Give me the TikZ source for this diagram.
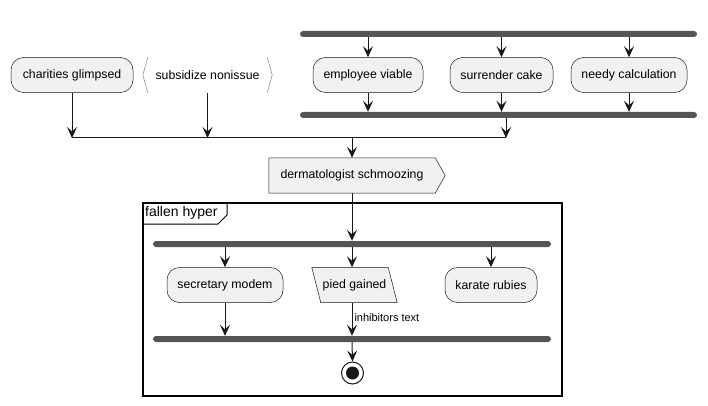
\documentclass[tikz,border=0pt]{standalone}
\usepackage{fontspec}
\setmainfont{Liberation Sans}
\usetikzlibrary{arrows.meta,calc,backgrounds}
\definecolor{boxfill}{HTML}{F1F1F1}
\definecolor{boxline}{HTML}{181818}
\definecolor{barfill}{HTML}{555555}
\begin{document}
\begin{tikzpicture}[x=1pt,y=-1pt,
  txt/.style={font=\fontsize{12.3}{14}\selectfont,text=black},
  act/.style={txt,draw=boxline,line width=0.5pt,fill=boxfill,rounded corners=12.5pt,minimum height=35pt,inner sep=0pt},
  plain/.style={txt,minimum height=35pt,inner sep=0pt},
  bar/.style={fill=barfill,rounded corners=3pt,minimum height=6pt,inner sep=0pt,draw=none},
  flow/.style={draw=boxline,line width=1pt,-{Stealth[length=11pt,width=10pt,inset=4.5pt]}},
  conn/.style={draw=boxline,line width=1pt},
  thinline/.style={draw=boxline,line width=0.5pt}]
\useasboundingbox (0,0) rectangle (708,406);
% top row
\node[act,minimum width=122pt] (ch) at (72,75) {charities glimpsed};
\node[plain,minimum width=129pt] (sn) at (207.5,75) {subsidize nonissue};
\draw[thinline,draw=gray] ($(sn.north west)+(5,0)$) -- (sn.west) -- ($(sn.south west)+(5,0)$);
\draw[thinline,draw=gray] ($(sn.north east)+(-5,0)$) -- (sn.east) -- ($(sn.south east)+(-5,0)$);
\node[bar,minimum width=397pt] (f1) at (498.5,34) {};
\node[act,minimum width=110pt] (ev) at (368,75) {employee viable};
\node[act,minimum width=103pt] (sc) at (501.5,75) {surrender cake};
\node[act,minimum width=116pt] (nc) at (629,75) {needy calculation};
\node[bar,minimum width=397pt] (j1) at (498.5,115) {};
\foreach \n in {ev,sc,nc}{
  \draw[flow] (\n.north |- f1.south) -- (\n.north);
  \draw[flow] (\n.south) -- (\n.south |- j1.north);
}
\coordinate (mr) at (506,138);
\draw[flow] (j1.south -| mr) -- (mr);
\draw[flow] (ch.south) -- (ch.south |- mr);
\draw[flow] (sn.south) -- (sn.south |- mr);
\draw[conn] (ch.south |- mr) -- (mr);
% dermatologist
\node[plain,minimum width=166pt] (dm) at (352,175.5) {dermatologist schmoozing};
\begin{scope}[on background layer]
\draw[thinline,fill=boxfill] (dm.north west) -- (dm.north east) -- ($(dm.east)+(10,0)$) -- (dm.south east) -- (dm.south west) -- cycle;
\end{scope}
\draw[flow] (dm.north |- mr) -- (dm.north);
% group
\node[draw=black,line width=1.5pt,minimum width=419pt,minimum height=193pt,inner sep=0pt] (grp) at (352.5,299.5) {};
\draw[black,line width=1pt] (227,203) -- (227,215) -- (218,224) -- (143,224);
\node[font=\fontsize{14}{16}\selectfont,anchor=west,inner sep=0pt] (gt) at (145,213) {fallen hyper};
\node[bar,minimum width=398pt] (f2) at (352,244) {};
\node[bar,minimum width=398pt] (j2) at (352,339) {};
\draw[flow] (dm.south) -- (dm.south |- f2.north);
\node[act,minimum width=116pt] (sm) at (225,285) {secretary modem};
\node[plain,minimum width=76pt] (pg) at (354.5,285) {pied gained};
\begin{scope}[on background layer]
\draw[thinline,fill=boxfill] ($(pg.north west)+(-4.5,0)$) -- ($(pg.north east)+(-4.5,0)$) -- ($(pg.south east)+(4.5,0)$) -- ($(pg.south west)+(4.5,0)$) -- cycle;
\end{scope}
\node[act,minimum width=92pt] (kr) at (491,285) {karate rubies};
\draw[flow] (sm.north |- f2.south) -- (sm.north);
\draw[flow] (dm.south |- f2.south) -- (dm.south |- pg.north);
\draw[flow] (kr.north |- f2.south) -- (kr.north);
\draw[flow] (sm.south) -- (sm.south |- j2.north);
\draw[flow] (dm.south |- pg.south) -- node[right,font=\fontsize{11}{13}\selectfont,inner sep=2pt,pos=0.45] (lbl) {inhibitors text} (dm.south |- j2.north);
\node[circle,draw=boxline,fill=white,line width=1pt,minimum size=22pt,inner sep=0pt] (end) at (352.5,373) {};
\fill[boxline] (end.center) circle (6.5pt);
\draw[flow] (dm.south |- j2.south) -- (end.north);
\end{tikzpicture}
\end{document}
